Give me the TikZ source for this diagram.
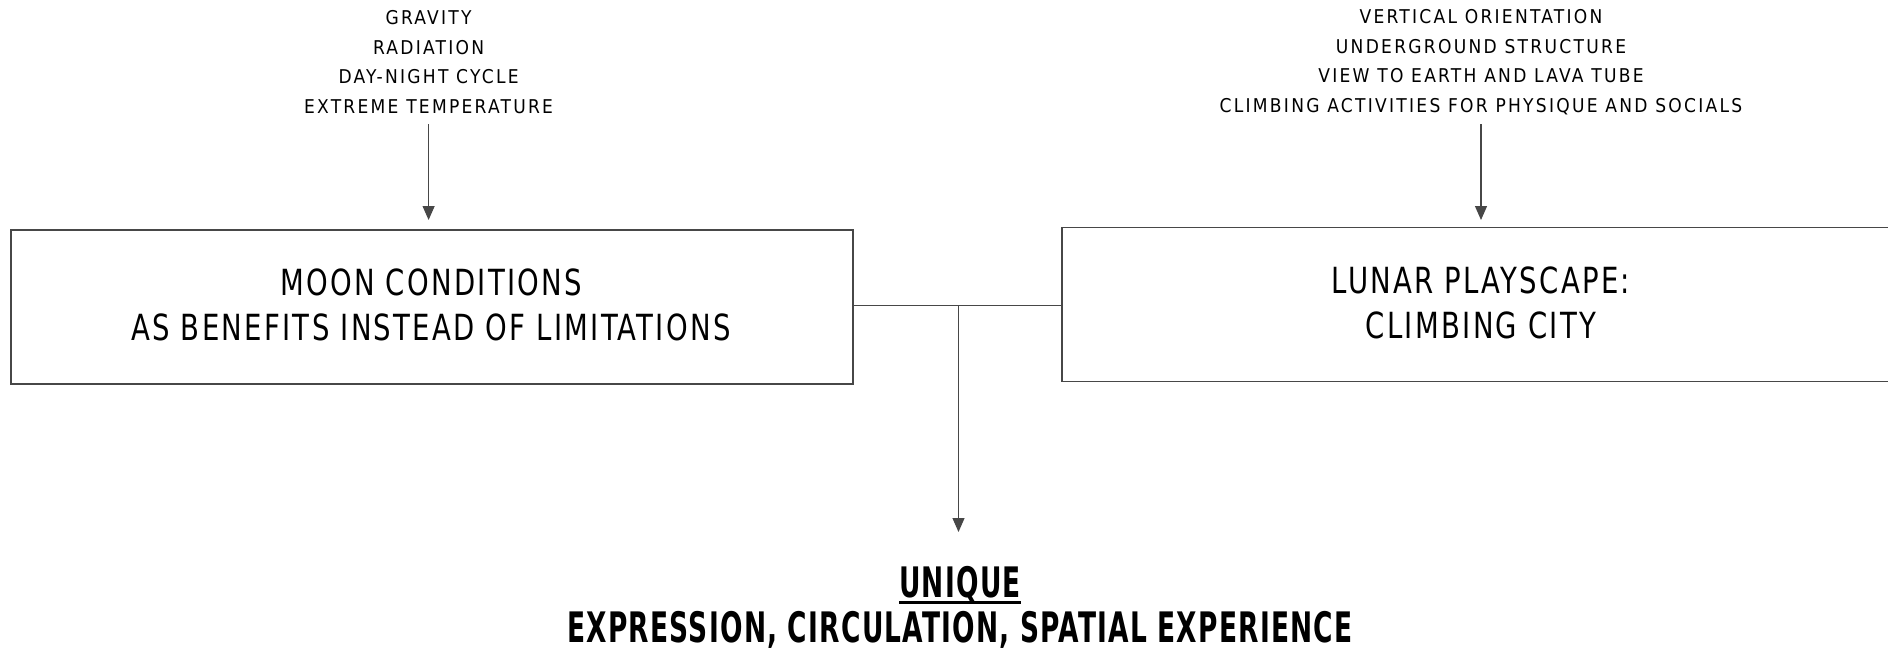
\documentclass[tikz,border=0pt]{standalone}
\usepackage{fontspec}
\setmainfont{DejaVu Sans Condensed}
\usetikzlibrary{arrows.meta,calc}
\newcommand{\thickunder}[1]{\setbox0\hbox{#1}\leavevmode\rlap{\raisebox{-6pt}{\rule{\wd0}{2.6pt}}}\box0}
\begin{document}
\begin{tikzpicture}[x=1pt,y=-1pt,
  line/.style={draw=black!72, line width=1.1pt},
  tip/.style={-{Triangle[width=12pt,length=14pt]}},
  box/.style={draw=black!72, line width=1.6pt, inner sep=0pt},
  small/.style={align=center, font=\fontsize{19}{29.6}\selectfont\addfontfeatures{LetterSpace=12}},
  mid/.style={align=center, font=\fontsize{36}{45.5}\selectfont\addfontfeatures{FakeStretch=0.85,LetterSpace=6.4}},
  big/.style={align=center, inner sep=0pt, font=\fontsize{42}{45}\bfseries\selectfont\addfontfeatures{FakeStretch=0.7,LetterSpace=3}}]
\useasboundingbox (0,0) rectangle (1888,649);
\clip (0,0) rectangle (1888,649);

% two framed statements
\node[box, minimum width=842pt, minimum height=154pt] (moon) at (431.7,307) {};
\node[mid] at (431,305) {MOON CONDITIONS\\AS BENEFITS INSTEAD OF LIMITATIONS};
\node[box, minimum width=840pt, minimum height=154pt] (play) at (1482,304.6) {};
\node[mid] at (1481,303) {LUNAR PLAYSCAPE:\\CLIMBING CITY};

% inputs above each box
\node[small] (cond) at (428.6,62) {GRAVITY\\RADIATION\\DAY-NIGHT CYCLE\\EXTREME TEMPERATURE};
\node[small] (feat) at (1481,62) {VERTICAL ORIENTATION\\UNDERGROUND STRUCTURE\\VIEW TO EARTH AND LAVA TUBE\\CLIMBING ACTIVITIES FOR PHYSIQUE AND SOCIALS};

% outcome
\node[big] (res) at (960,607.5) {\thickunder{UNIQUE}\\EXPRESSION, CIRCULATION, SPATIAL EXPERIENCE};

% connectors
\coordinate (ca) at (428.6,124);
\coordinate (fa) at (1481,124);
\draw[line,tip] (ca) -- (ca |- 0,220);
\draw[line,tip] (fa) -- (fa |- 0,220);
\coordinate (j) at (958.5,305.8);
\draw[line] (moon.east |- j) -- (play.west |- j);
\draw[line,tip] (j) -- (958.5,532);
\end{tikzpicture}
\end{document}
